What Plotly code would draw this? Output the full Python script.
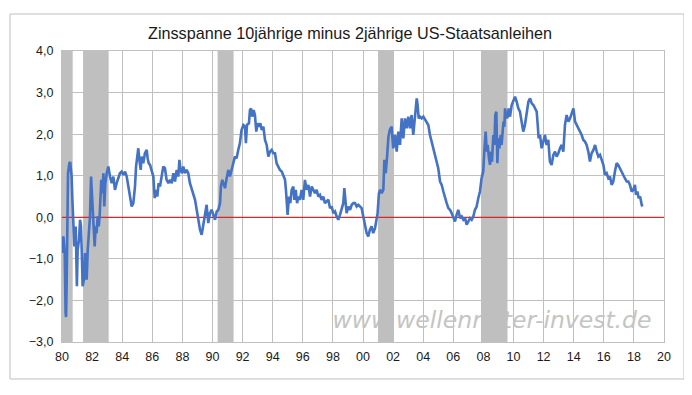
import plotly.graph_objects as go

# ---------------- data ----------------
years = [
 1980.04,1980.09,1980.13,1980.18,1980.24,1980.27,1980.31,1980.35,1980.40,1980.49,1980.55,1980.58,1980.64,1980.69,
 1980.75,1980.82,1980.91,1980.95,1980.99,1981.04,1981.13,1981.20,1981.26,1981.31,1981.37,1981.46,1981.53,1981.59,
 1981.64,1981.71,1981.77,1981.86,1981.93,1981.99,1982.06,1982.13,1982.17,1982.24,1982.30,1982.37,1982.44,1982.50,
 1982.55,1982.61,1982.68,1982.75,1982.81,1982.88,1982.97,1983.08,1983.19,1983.30,1983.41,1983.52,1983.63,1983.74,
 1983.85,1983.96,1984.08,1984.19,1984.30,1984.41,1984.52,1984.63,1984.74,1984.85,1984.92,1985.01,1985.07,1985.14,
 1985.23,1985.29,1985.40,1985.51,1985.63,1985.69,1985.76,1985.85,1985.96,1986.07,1986.16,1986.25,1986.33,1986.42,
 1986.51,1986.62,1986.73,1986.84,1986.95,1987.07,1987.18,1987.29,1987.40,1987.51,1987.62,1987.73,1987.80,1987.88,
 1987.97,1988.06,1988.17,1988.28,1988.39,1988.50,1988.62,1988.73,1988.84,1988.95,1989.06,
 1989.17,1989.28,1989.39,1989.50,1989.61,1989.72,1989.83,1989.94,1990.06,1990.17,1990.28,1990.39,1990.50,1990.56,
 1990.65,1990.74,1990.83,1990.94,1991.05,1991.16,1991.27,1991.38,1991.49,1991.60,1991.71,1991.82,1991.93,1992.05,
 1992.16,1992.22,1992.29,1992.42,1992.49,1992.56,1992.64,1992.73,1992.82,1992.91,1993.00,1993.09,1993.18,1993.27,
 1993.38,1993.49,1993.60,1993.71,1993.82,1993.93,1994.04,1994.15,1994.26,1994.37,1994.48,1994.60,1994.71,1994.82,
 1994.88,1994.95,1994.99,1995.08,1995.17,1995.26,1995.37,1995.44,1995.53,1995.62,1995.70,1995.81,1995.92,1996.03,
 1996.14,1996.26,1996.37,1996.48,1996.59,1996.70,1996.81,1996.92,1997.03,1997.14,1997.25,1997.36,1997.47,1997.58,
 1997.70,1997.81,1997.92,1998.03,1998.14,1998.25,1998.36,1998.47,1998.58,1998.69,1998.76,1998.85,1998.91,1999.03,
 1999.14,1999.25,1999.36,1999.47,1999.58,1999.69,1999.80,1999.91,2000.02,2000.13,2000.24,2000.35,2000.46,2000.57,
 2000.68,2000.80,2000.91,2000.97,2001.06,2001.15,2001.24,2001.35,2001.42,2001.51,2001.60,2001.69,2001.78,
 2001.90,2002.01,2002.13,2002.24,2002.35,2002.46,2002.57,2002.68,2002.79,2002.90,2003.01,2003.12,2003.23,2003.34,
 2003.46,2003.57,2003.63,2003.70,2003.79,2003.90,2004.01,2004.12,2004.23,2004.34,2004.45,2004.56,2004.67,2004.78,
 2004.89,2005.00,2005.12,2005.23,2005.34,2005.45,2005.56,2005.67,2005.78,2005.89,2006.00,2006.11,2006.22,2006.33,
 2006.45,2006.56,2006.67,2006.78,2006.89,2007.00,2007.11,2007.22,2007.33,2007.44,2007.55,2007.66,2007.77,2007.88,
 2007.99,2008.06,2008.15,2008.22,2008.28,2008.37,2008.44,2008.51,2008.57,2008.66,2008.73,2008.79,2008.86,2008.93,
 2008.99,2009.06,2009.15,2009.21,2009.33,2009.39,2009.44,2009.50,2009.59,2009.68,2009.77,2009.88,2009.99,2010.10,
 2010.21,2010.32,2010.43,2010.54,2010.65,2010.76,2010.87,2010.99,2011.10,2011.21,2011.32,2011.43,2011.54,2011.61,
 2011.67,2011.76,2011.87,2011.98,2012.09,2012.20,2012.31,2012.42,2012.53,2012.65,2012.76,2012.87,2012.98,2013.09,
 2013.20,2013.31,2013.42,2013.53,2013.65,2013.76,2013.87,2013.98,2014.09,2014.20,2014.31,2014.42,2014.53,2014.64,
 2014.75,2014.86,2014.97,2015.08,2015.19,2015.31,2015.42,2015.53,2015.64,2015.75,2015.86,2015.97,2016.08,2016.19,
 2016.30,2016.41,2016.52,2016.63,2016.74,2016.85,2016.96,2017.07,2017.18,2017.29,2017.40,2017.52,2017.63,2017.74,
 2017.85,2017.96,2018.07,2018.14,2018.23,2018.32,2018.41,2018.52,2018.56,
]

spread = [
 -0.86,-0.46,-0.62,-0.86,-2.30,-2.40,-1.58,-0.54,1.06,1.30,1.33,1.20,0.98,0.42,
 -0.22,-0.70,-0.22,-1.42,-1.66,-0.78,-0.54,-0.06,-0.22,-0.78,-1.66,-1.50,-0.86,-1.26,
 -1.50,-0.78,-0.46,0.02,0.98,0.50,-0.06,-0.54,-0.70,-0.22,-0.38,0.02,-0.22,0.02,
 0.42,0.90,0.58,1.06,0.26,0.82,1.06,1.22,0.98,0.82,0.98,0.66,0.82,0.94,
 1.06,1.10,1.02,1.10,0.98,0.74,0.50,0.26,0.34,0.74,1.22,1.54,1.66,1.38,
 1.14,1.46,1.30,1.54,1.62,1.42,1.30,1.26,1.10,0.98,0.46,0.66,0.50,0.82,
 0.74,0.98,1.22,1.18,0.90,0.82,0.90,0.82,1.06,0.86,1.14,0.98,1.38,1.14,
 1.06,1.22,1.06,1.14,1.06,0.82,0.66,0.50,0.42,0.18,-0.06,
 -0.30,-0.42,-0.14,0.02,0.30,-0.14,0.10,0.18,0.06,-0.06,0.14,0.18,0.34,0.74,
 0.90,0.82,0.70,0.94,1.14,0.98,1.18,1.30,1.46,1.42,1.62,1.78,2.10,2.22,
 2.18,1.78,2.22,2.26,2.58,2.62,2.42,2.58,2.46,2.06,2.26,2.18,2.26,2.10,
 2.18,1.86,1.74,1.46,1.58,1.62,1.54,1.54,1.30,1.22,1.14,1.10,0.98,0.90,
 0.66,0.26,0.06,0.50,0.34,0.66,0.74,0.42,0.66,0.34,0.50,0.42,0.66,0.42,
 0.90,0.66,0.78,0.50,0.74,0.66,0.58,0.66,0.50,0.54,0.42,0.50,0.34,0.38,
 0.42,0.22,0.26,0.10,0.14,0.02,-0.06,0.06,0.18,0.34,0.70,0.30,0.10,0.26,
 0.18,0.30,0.34,0.34,0.26,0.30,0.26,0.22,0.02,-0.22,-0.38,-0.46,-0.30,-0.22,
 -0.38,-0.26,-0.06,0.10,0.58,0.66,0.58,0.66,1.38,1.06,1.46,1.94,2.10,
 2.18,1.66,1.98,1.58,2.06,1.74,2.38,1.90,2.38,2.14,2.42,2.14,2.46,1.98,
 2.38,2.86,2.70,2.38,2.42,2.38,2.42,2.34,2.30,2.22,1.98,1.82,1.66,1.50,
 1.34,1.18,0.86,0.78,0.62,0.46,0.34,0.22,0.18,0.10,0.02,-0.10,0.06,0.18,
 -0.02,0.02,-0.06,-0.02,-0.18,-0.10,-0.02,-0.06,0.02,0.18,0.26,0.46,0.62,0.94,
 1.10,1.58,2.06,1.58,1.74,1.42,1.26,1.58,1.34,1.98,1.74,2.46,2.54,1.30,
 1.90,1.66,1.98,1.74,2.30,2.18,2.62,2.46,2.38,2.62,2.42,2.70,2.82,2.90,
 2.78,2.62,2.54,2.30,2.06,2.22,2.46,2.78,2.86,2.74,2.70,2.62,2.54,2.22,
 1.90,1.98,1.66,1.82,1.98,1.74,1.86,1.34,1.26,1.50,1.58,1.46,1.54,1.66,
 1.74,1.58,2.22,2.46,2.30,2.38,2.50,2.62,2.30,2.22,2.14,2.06,1.98,1.86,
 1.82,1.74,1.58,1.34,1.54,1.62,1.74,1.58,1.46,1.50,1.38,1.26,1.02,1.06,
 0.94,0.98,0.78,0.86,1.10,1.30,1.26,1.18,1.06,1.02,0.94,0.86,0.86,0.78,
 0.62,0.66,0.78,0.54,0.62,0.46,0.50,0.30,0.26,
]

# recessions (start, end) in decimal years
rec_start = [1980.00, 1981.40, 1990.34, 2001.00, 2007.84]
rec_end   = [1980.71, 1983.10, 1991.40, 2002.00, 2009.60]

x_ticks = list(range(1980, 2021, 2))
x_ticktext = ["%02d" % (y % 100) for y in x_ticks]
y_ticks = [-3, -2, -1, 0, 1, 2, 3, 4]

title_text = "Zinsspanne 10jährige minus 2jährige US-Staatsanleihen"
watermark = "www.wellenreiter-invest.de"

X_RANGE = [1980, 2020]
Y_RANGE = [-3, 4]

# ---------------- figure ----------------
fig = go.Figure()

# watermark (below recession bands)
fig.add_trace(go.Scatter(
    x=[2008.57], y=[-2.52], mode="text", text=[watermark],
    textfont=dict(family="DejaVu Sans", size=23.5, color="#c4c4c4", style="italic"),
    hoverinfo="skip", showlegend=False))

# recession bands
bx, by = [], []
for s, e in zip(rec_start, rec_end):
    bx += [s, e, e, s, s, None]
    by += [Y_RANGE[0], Y_RANGE[0], Y_RANGE[1], Y_RANGE[1], Y_RANGE[0], None]
fig.add_trace(go.Scatter(
    x=bx, y=by, mode="lines", fill="toself", fillcolor="#bfbfbf",
    line=dict(width=0, color="#bfbfbf"), hoverinfo="skip", showlegend=False))

# zero line
fig.add_trace(go.Scatter(
    x=X_RANGE, y=[0, 0], mode="lines", line=dict(color="#e00000", width=1),
    hoverinfo="skip", showlegend=False))

# spread line
fig.add_trace(go.Scatter(
    x=years, y=spread, mode="lines",
    line=dict(color="#4472C4", width=2.6), showlegend=False))

# the page has an 8px body margin, so the figure is 8px smaller than the window
fig.update_layout(
    width=684, height=387,
    margin=dict(l=54, r=28, t=43, b=53),
    paper_bgcolor="white", plot_bgcolor="white",
    separators=",.",
    font=dict(family="Liberation Sans, Arial, sans-serif", size=12, color="#1a1a1a"),
    showlegend=False,
    annotations=[dict(
        text=title_text, xref="paper", yref="paper", x=0.478, y=1.062,
        xanchor="center", yanchor="middle", showarrow=False,
        font=dict(family="Liberation Sans, Arial, sans-serif", size=16.2, color="#1a1a1a"))],
    shapes=[dict(type="rect", xref="paper", yref="paper",
                 x0=-0.0864, x1=1.0332, y0=-0.1271, y1=1.1271,
                 line=dict(color="#bfbfbf", width=1), fillcolor="rgba(0,0,0,0)", layer="below")],
)

fig.update_xaxes(
    range=X_RANGE, tickmode="array", tickvals=x_ticks, ticktext=x_ticktext,
    showgrid=True, gridcolor="#c0c0c0", gridwidth=1, zeroline=False,
    showline=True, linecolor="#c0c0c0", mirror=True,
    ticks="outside", ticklen=3, tickcolor="rgba(0,0,0,0)",
    tickfont=dict(size=12.5))
fig.update_yaxes(
    range=Y_RANGE, tickmode="array", tickvals=y_ticks, tickformat=".1f",
    showgrid=True, gridcolor="#c0c0c0", gridwidth=1, zeroline=False,
    showline=True, linecolor="#c0c0c0", mirror=True,
    ticks="outside", ticklen=5, tickcolor="rgba(0,0,0,0)",
    tickfont=dict(size=12.5))

fig.write_html("out.html")
